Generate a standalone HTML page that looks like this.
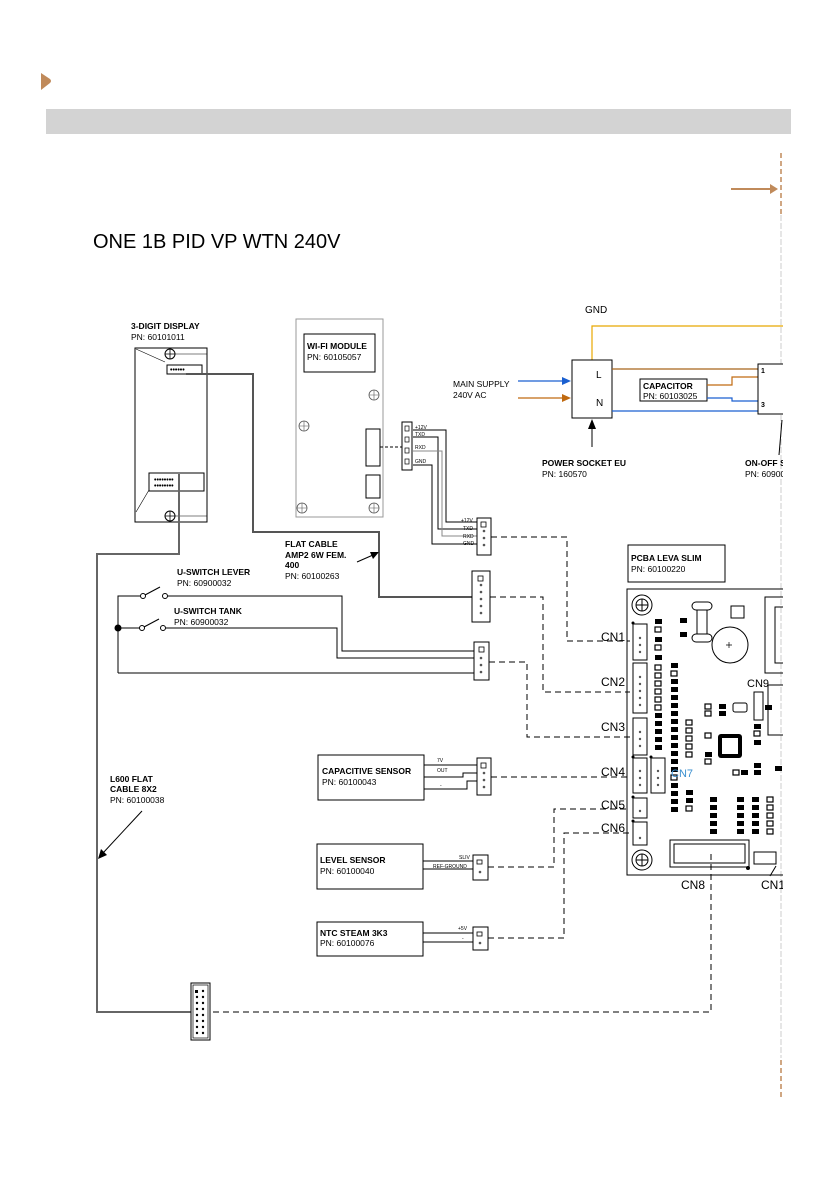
<!DOCTYPE html>
<html><head><meta charset="utf-8"><style>
html,body{margin:0;padding:0;background:#fff}
svg{display:block}
text{font-family:"Liberation Sans",sans-serif}
.b{font-weight:bold;font-size:8.5px}
.n{font-size:8.5px}
.t{font-size:5px}
</style></head><body>
<svg width="839" height="1191" viewBox="0 0 839 1191" xmlns="http://www.w3.org/2000/svg">
<defs>
<clipPath id="c"><rect x="0" y="0" width="783" height="1191"/></clipPath>
<rect id="sr" width="7" height="5" fill="#000"/>
<rect id="so" width="6" height="5" fill="#fff" stroke="#000" stroke-width="1.2"/>
</defs>
<!-- header -->
<path d="M41 73 L50 79 Q52 81 50 83 L41 90 Z" fill="#C08A5A"/>
<rect x="46" y="109" width="745" height="25" fill="#d3d3d3"/>
<line x1="781" y1="153" x2="781" y2="215" stroke="#C08A5A" stroke-width="1.5" stroke-dasharray="5,3"/>
<line x1="781" y1="215" x2="781" y2="1058" stroke="#ccc" stroke-width="1" stroke-dasharray="6,2"/>
<line x1="781" y1="1060" x2="781" y2="1097" stroke="#C08A5A" stroke-width="1.5" stroke-dasharray="5,3"/>
<line x1="731" y1="189" x2="772" y2="189" stroke="#C08A5A" stroke-width="2"/>
<path d="M778 189 L770 184 L770 194 Z" fill="#C08A5A"/>
<text x="93" y="248" font-size="20" fill="#000">ONE 1B PID VP WTN 240V</text>

<g clip-path="url(#c)">
<!-- 3-digit display -->
<text x="131" y="329" class="b">3-DIGIT DISPLAY</text>
<text x="131" y="340" class="n">PN: 60101011</text>
<rect x="135" y="348" width="72" height="174" fill="none" stroke="#000" stroke-width="1"/>
<line x1="136" y1="349" x2="165" y2="362" stroke="#000" stroke-width="0.6"/>
<line x1="136" y1="512" x2="149" y2="490" stroke="#000" stroke-width="0.6"/>
<circle cx="170" cy="354" r="5" fill="none" stroke="#000"/><path d="M165 354h10M170 349v10" stroke="#000" stroke-width="0.8"/>
<circle cx="170" cy="516" r="5" fill="none" stroke="#000"/><path d="M165 516h10M170 511v10" stroke="#000" stroke-width="0.8"/>
<line x1="175" y1="354" x2="207" y2="354" stroke="#000" stroke-width="0.6"/>
<line x1="175" y1="516" x2="207" y2="516" stroke="#000" stroke-width="0.6"/>
<rect x="167" y="365" width="35" height="9" fill="none" stroke="#000"/>
<text x="170" y="372" font-size="7" font-weight="bold">••••••</text>
<rect x="149" y="473" width="55" height="18" fill="none" stroke="#000"/>
<text x="154" y="482" font-size="7" font-weight="bold">••••••••</text>
<text x="154" y="488" font-size="7" font-weight="bold">••••••••</text>

<!-- wifi module -->
<rect x="296" y="319" width="87" height="198" fill="none" stroke="#999" stroke-width="1"/>
<rect x="304" y="334" width="71" height="38" fill="none" stroke="#000"/>
<text x="307" y="349" class="b">WI-FI MODULE</text>
<text x="307" y="360" class="n">PN: 60105057</text>
<g fill="none" stroke="#555" stroke-width="0.8">
<circle cx="374" cy="395" r="5"/><circle cx="304" cy="426" r="5"/><circle cx="302" cy="508" r="5"/><circle cx="374" cy="508" r="5"/>
</g>
<path d="M369 395h10M374 390v10M299 426h10M304 421v10M297 508h10M302 503v10M369 508h10M374 503v10" stroke="#555" stroke-width="0.6"/>
<rect x="366" y="429" width="14" height="37" fill="none" stroke="#000"/>
<rect x="366" y="475" width="14" height="23" fill="none" stroke="#000"/>
<line x1="380" y1="447" x2="402" y2="447" stroke="#000" stroke-dasharray="3,2"/>
<rect x="402" y="422" width="10" height="48" fill="none" stroke="#000"/>
<g fill="none" stroke="#000" stroke-width="0.7"><rect x="405" y="426" width="4" height="5"/><rect x="405" y="437" width="4" height="5"/><rect x="405" y="448" width="4" height="5"/><rect x="405" y="459" width="4" height="5"/></g>
<text x="415" y="429" class="t">+12V</text><text x="415" y="436" class="t">TXD</text><text x="415" y="449" class="t">RXD</text><text x="415" y="463" class="t">GND</text>
<g fill="none" stroke="#000" stroke-width="1">
<polyline points="413,430 446,430 446,522 477,522"/>
<polyline points="413,437 438,437 438,529 477,529"/>
<polyline points="413,465 432,465 432,544 477,544"/>
</g>
<polyline points="413,451 442,451 442,536 477,536" fill="none" stroke="#888" stroke-width="1"/>
<rect x="477" y="518" width="14" height="37" fill="#fff" stroke="#000"/>
<text x="461" y="522" class="t">+12V</text><text x="463" y="530" class="t">TXD</text><text x="463" y="538" class="t">RXD</text><text x="463" y="545" class="t">GND</text>
<g fill="#555"><circle cx="484" cy="531" r="1.3"/><circle cx="484" cy="538" r="1.3"/><circle cx="484" cy="545" r="1.3"/></g>
<rect x="481" y="522" width="5" height="5" fill="none" stroke="#000" stroke-width="0.8"/>

<!-- flat cable -->
<polyline points="186,374 253,374 253,532 379,532 379,597 473,597" fill="none" stroke="#555" stroke-width="2"/>
<rect x="472" y="571" width="18" height="51" fill="#fff" stroke="#000"/>
<g fill="#555"><circle cx="481" cy="585" r="1.3"/><circle cx="481" cy="592" r="1.3"/><circle cx="481" cy="599" r="1.3"/><circle cx="481" cy="606" r="1.3"/><circle cx="481" cy="613" r="1.3"/></g>
<rect x="478" y="576" width="5" height="5" fill="none" stroke="#000" stroke-width="0.8"/>
<text x="285" y="547" class="b">FLAT CABLE</text>
<text x="285" y="558" class="b">AMP2 6W FEM.</text>
<text x="285" y="568" class="b">400</text>
<text x="285" y="579" class="n">PN: 60100263</text>
<line x1="357" y1="562" x2="373" y2="555" stroke="#000"/><path d="M379 552 L370 552 L373 559 Z"/>

<!-- switches -->
<text x="177" y="575" class="b">U-SWITCH LEVER</text>
<text x="177" y="586" class="n">PN: 60900032</text>
<text x="174" y="614" class="b">U-SWITCH TANK</text>
<text x="174" y="625" class="n">PN: 60900032</text>
<g fill="none" stroke="#000" stroke-width="1">
<polyline points="118,673 118,596 140,596"/>
<circle cx="143" cy="596" r="2.5"/><circle cx="165" cy="596" r="2.5"/>
<line x1="145" y1="595" x2="160" y2="587"/>
<polyline points="168,596 342,596 342,651 474,651"/>
<line x1="118" y1="628" x2="140" y2="628"/>
<circle cx="142" cy="628" r="2.5"/><circle cx="163" cy="628" r="2.5"/>
<line x1="144" y1="627" x2="159" y2="619"/>
<polyline points="166,628 337,628 337,658 474,658"/>
<polyline points="118,673 474,673"/>
</g>
<circle cx="118" cy="628" r="3.5" fill="#000"/>
<rect x="474" y="642" width="15" height="38" fill="#fff" stroke="#000"/>
<rect x="479" y="647" width="5" height="5" fill="none" stroke="#000" stroke-width="0.8"/>
<g fill="#555"><circle cx="481" cy="658" r="1.3"/><circle cx="481" cy="665" r="1.3"/><circle cx="481" cy="672" r="1.3"/></g>

<!-- L600 cable -->
<polyline points="179,474 179,554 97,554 97,1012 191,1012" fill="none" stroke="#666" stroke-width="2"/>
<text x="110" y="782" class="b">L600 FLAT</text>
<text x="110" y="792" class="b">CABLE 8X2</text>
<text x="110" y="803" class="n">PN: 60100038</text>
<line x1="142" y1="811" x2="103" y2="853" stroke="#000"/><path d="M98 859 L101 849 L107 855 Z"/>
<rect x="191" y="983" width="19" height="57" fill="#fff" stroke="#000"/>
<rect x="193" y="985" width="15" height="53" fill="none" stroke="#000" stroke-width="0.7"/>
<g fill="#000">
<rect x="195" y="990" width="3" height="3"/>
<circle cx="203" cy="991" r="1.2"/><circle cx="197" cy="997" r="1.2"/><circle cx="203" cy="997" r="1.2"/><circle cx="197" cy="1003" r="1.2"/><circle cx="203" cy="1003" r="1.2"/><circle cx="197" cy="1009" r="1.2"/><circle cx="203" cy="1009" r="1.2"/><circle cx="197" cy="1015" r="1.2"/><circle cx="203" cy="1015" r="1.2"/><circle cx="197" cy="1021" r="1.2"/><circle cx="203" cy="1021" r="1.2"/><circle cx="197" cy="1027" r="1.2"/><circle cx="203" cy="1027" r="1.2"/><circle cx="197" cy="1033" r="1.2"/><circle cx="203" cy="1033" r="1.2"/>
</g>

<!-- sensors -->
<rect x="318" y="755" width="106" height="45" fill="none" stroke="#000"/>
<text x="322" y="774" class="b">CAPACITIVE SENSOR</text>
<text x="322" y="785" class="n">PN: 60100043</text>
<g fill="none" stroke="#000"><polyline points="424,765 477,765"/><polyline points="424,777 463,777 463,773 477,773"/><polyline points="424,789 467,789 467,781 477,781"/></g>
<text x="437" y="762" class="t">7V</text><text x="437" y="772" class="t">OUT</text><text x="440" y="787" class="t">-</text>
<rect x="477" y="758" width="14" height="37" fill="#fff" stroke="#000"/>
<rect x="481" y="763" width="5" height="5" fill="none" stroke="#000" stroke-width="0.8"/>
<g fill="#555"><circle cx="484" cy="773" r="1.3"/><circle cx="484" cy="780" r="1.3"/><circle cx="484" cy="787" r="1.3"/></g>

<rect x="317" y="844" width="106" height="45" fill="none" stroke="#000"/>
<text x="320" y="863" class="b">LEVEL SENSOR</text>
<text x="320" y="874" class="n">PN: 60100040</text>
<line x1="423" y1="861" x2="473" y2="861" stroke="#000"/><line x1="423" y1="869" x2="473" y2="869" stroke="#000"/>
<text x="459" y="859" class="t">SLIV</text><text x="433" y="868" class="t">REF-GROUND</text>
<rect x="473" y="855" width="15" height="25" fill="#fff" stroke="#000"/>
<rect x="477" y="860" width="5" height="4" fill="none" stroke="#000" stroke-width="0.8"/><circle cx="480" cy="872" r="1.3" fill="#555"/>

<rect x="317" y="922" width="106" height="34" fill="none" stroke="#000"/>
<text x="320" y="936" class="b">NTC STEAM 3K3</text>
<text x="320" y="946" class="n">PN: 60100076</text>
<line x1="423" y1="933" x2="473" y2="933" stroke="#000"/><line x1="423" y1="942" x2="473" y2="942" stroke="#000"/>
<text x="458" y="930" class="t">+5V</text><text x="462" y="940" class="t">-</text>
<rect x="473" y="927" width="15" height="23" fill="#fff" stroke="#000"/>
<rect x="477" y="932" width="5" height="4" fill="none" stroke="#000" stroke-width="0.8"/><circle cx="480" cy="943" r="1.3" fill="#555"/>

<!-- dashed connections -->
<g fill="none" stroke="#000" stroke-width="1" stroke-dasharray="6,4">
<polyline points="491,537 567,537 567,641 630,641"/>
<polyline points="490,597 543,597 543,692 630,692"/>
<polyline points="489,662 527,662 527,737 630,737"/>
<polyline points="491,777 630,777"/>
<polyline points="488,867 554,867 554,809 630,809"/>
<polyline points="488,938 564,938 564,833 630,833"/>
<polyline points="213,1012 711,1012 711,850"/>
</g>

<!-- power -->
<text x="585" y="313" font-size="10">GND</text>
<polyline points="592,360 592,326 783,326" fill="none" stroke="#E8A800" stroke-width="1.2"/>
<rect x="572" y="360" width="40" height="58" fill="#fff" stroke="#000"/>
<text x="596" y="378" font-size="10">L</text>
<text x="596" y="406" font-size="10">N</text>
<text x="453" y="387" class="n">MAIN SUPPLY</text>
<text x="453" y="398" class="n">240V AC</text>
<line x1="518" y1="381" x2="563" y2="381" stroke="#1a5fd0" stroke-width="1.2"/><path d="M571 381 L562 377 L562 385 Z" fill="#1a5fd0"/>
<line x1="518" y1="398" x2="563" y2="398" stroke="#C06A10" stroke-width="1.2"/><path d="M571 398 L562 394 L562 402 Z" fill="#C06A10"/>
<line x1="592" y1="447" x2="592" y2="428" stroke="#000"/><path d="M592 419 L588 429 L596 429 Z"/>
<text x="542" y="466" class="b">POWER SOCKET EU</text>
<text x="542" y="477" class="n">PN: 160570</text>
<line x1="612" y1="369" x2="758" y2="369" stroke="#A8641A" stroke-width="1.2"/>
<line x1="612" y1="411" x2="758" y2="411" stroke="#1a5fd0" stroke-width="1.2"/>
<rect x="640" y="379" width="67" height="22" fill="#fff" stroke="#000"/>
<text x="643" y="389" class="b">CAPACITOR</text>
<text x="643" y="399" class="n">PN: 60103025</text>
<polyline points="707,385 732,385 732,377 758,377" fill="none" stroke="#C06A10" stroke-width="1.2"/>
<polyline points="707,398 732,398 732,401 758,401" fill="none" stroke="#1a5fd0" stroke-width="1.2"/>
<rect x="758" y="364" width="40" height="50" fill="#fff" stroke="#000"/>
<text x="761" y="373" font-size="7" font-weight="bold">1</text>
<text x="761" y="407" font-size="7" font-weight="bold">3</text>
<line x1="779" y1="455" x2="782" y2="420" stroke="#000"/>
<text x="745" y="466" class="b">ON-OFF SWITCH</text>
<text x="745" y="477" class="n">PN: 60900000</text>

<!-- PCBA -->
<rect x="628" y="545" width="97" height="37" fill="none" stroke="#000"/>
<text x="631" y="561" class="b">PCBA LEVA SLIM</text>
<text x="631" y="572" class="n">PN: 60100220</text>
<rect x="627" y="589" width="200" height="286" fill="none" stroke="#000"/>
<g fill="none" stroke="#000"><circle cx="642" cy="605" r="10"/><circle cx="642" cy="605" r="6"/><circle cx="642" cy="860" r="10"/><circle cx="642" cy="860" r="6"/></g>
<path d="M636 605h12M642 599v12M636 860h12M642 854v12" stroke="#000"/>
<g fill="none" stroke="#000" stroke-width="1">
<rect x="633" y="624" width="14" height="36"/><rect x="633" y="663" width="14" height="50"/><rect x="633" y="718" width="14" height="37"/>
<rect x="633" y="758" width="14" height="35"/><rect x="651" y="758" width="14" height="35"/><rect x="633" y="798" width="14" height="20"/><rect x="633" y="822" width="14" height="23"/>
<rect x="670" y="840" width="79" height="27"/><rect x="674" y="844" width="71" height="19"/>
<rect x="754" y="852" width="22" height="12"/>
<rect x="692" y="602" width="20" height="8" rx="4"/><rect x="692" y="634" width="20" height="8" rx="4"/><rect x="697" y="610" width="10" height="24"/>
<circle cx="730" cy="645" r="18"/>
<rect x="731" y="606" width="13" height="12"/>
<rect x="765" y="597" width="30" height="76"/><rect x="775" y="607" width="20" height="56"/>
<rect x="754" y="692" width="9" height="28"/><rect x="733" y="703" width="14" height="9" rx="2"/>
<rect x="768" y="685" width="20" height="50"/>
</g>
<path d="M726 645h6M729 642v6" stroke="#000" stroke-width="0.7"/>
<rect x="718" y="734" width="24" height="24" rx="3" fill="#000"/><rect x="722" y="738" width="16" height="16" fill="#fff"/>
<g fill="#000"><circle cx="633" cy="623" r="1.5"/><circle cx="633" cy="757" r="1.5"/><circle cx="651" cy="757" r="1.5"/><circle cx="633" cy="797" r="1.5"/><circle cx="633" cy="821" r="1.5"/><circle cx="748" cy="868" r="2"/></g>
<g fill="#555"><circle cx="640" cy="638" r="1.2"/><circle cx="640" cy="645" r="1.2"/><circle cx="640" cy="652" r="1.2"/><circle cx="640" cy="677" r="1.2"/><circle cx="640" cy="684" r="1.2"/><circle cx="640" cy="691" r="1.2"/><circle cx="640" cy="698" r="1.2"/><circle cx="640" cy="705" r="1.2"/><circle cx="640" cy="732" r="1.2"/><circle cx="640" cy="739" r="1.2"/><circle cx="640" cy="746" r="1.2"/><circle cx="640" cy="771" r="1.2"/><circle cx="640" cy="778" r="1.2"/><circle cx="640" cy="785" r="1.2"/><circle cx="658" cy="771" r="1.2"/><circle cx="658" cy="778" r="1.2"/><circle cx="658" cy="785" r="1.2"/><circle cx="640" cy="811" r="1.2"/><circle cx="640" cy="838" r="1.2"/></g>
<g>
<use href="#sr" x="655" y="619"/><use href="#so" x="655" y="627"/><use href="#sr" x="655" y="637"/><use href="#so" x="655" y="645"/><use href="#sr" x="655" y="655"/><use href="#so" x="655" y="665"/><use href="#so" x="655" y="673"/><use href="#so" x="655" y="681"/><use href="#so" x="655" y="689"/><use href="#so" x="655" y="697"/><use href="#so" x="655" y="705"/><use href="#sr" x="655" y="713"/><use href="#sr" x="655" y="721"/><use href="#sr" x="655" y="729"/><use href="#sr" x="655" y="737"/><use href="#sr" x="655" y="745"/>
<use href="#sr" x="671" y="663"/><use href="#so" x="671" y="671"/><use href="#sr" x="671" y="679"/><use href="#sr" x="671" y="687"/><use href="#sr" x="671" y="695"/><use href="#sr" x="671" y="703"/><use href="#sr" x="671" y="711"/><use href="#sr" x="671" y="719"/><use href="#sr" x="671" y="727"/><use href="#sr" x="671" y="735"/><use href="#sr" x="671" y="743"/><use href="#sr" x="671" y="751"/><use href="#sr" x="671" y="759"/><use href="#sr" x="671" y="767"/><use href="#so" x="671" y="775"/><use href="#sr" x="671" y="783"/><use href="#sr" x="671" y="791"/><use href="#sr" x="671" y="799"/><use href="#sr" x="671" y="807"/>
<use href="#so" x="686" y="720"/><use href="#so" x="686" y="728"/><use href="#so" x="686" y="736"/><use href="#so" x="686" y="744"/><use href="#so" x="686" y="752"/><use href="#sr" x="686" y="790"/><use href="#sr" x="686" y="798"/><use href="#so" x="686" y="806"/>
<use href="#sr" x="710" y="797"/><use href="#sr" x="710" y="805"/><use href="#sr" x="710" y="813"/><use href="#sr" x="710" y="821"/><use href="#sr" x="710" y="829"/>
<use href="#sr" x="737" y="797"/><use href="#sr" x="737" y="805"/><use href="#sr" x="737" y="813"/><use href="#sr" x="737" y="821"/><use href="#sr" x="737" y="829"/>
<use href="#sr" x="752" y="797"/><use href="#sr" x="752" y="805"/><use href="#sr" x="752" y="813"/><use href="#sr" x="752" y="821"/><use href="#sr" x="752" y="829"/>
<use href="#so" x="767" y="797"/><use href="#so" x="767" y="805"/><use href="#so" x="767" y="813"/><use href="#so" x="767" y="821"/><use href="#so" x="767" y="829"/>
<use href="#sr" x="680" y="618"/><use href="#sr" x="680" y="632"/><use href="#so" x="705" y="704"/><use href="#so" x="705" y="711"/><use href="#sr" x="719" y="704"/><use href="#sr" x="719" y="711"/>
<use href="#so" x="705" y="733"/><use href="#sr" x="705" y="752"/><use href="#so" x="705" y="759"/><use href="#so" x="733" y="770"/><use href="#sr" x="741" y="770"/><use href="#sr" x="754" y="770"/><use href="#sr" x="754" y="763"/>
<use href="#sr" x="754" y="724"/><use href="#so" x="754" y="731"/><use href="#sr" x="754" y="740"/><use href="#sr" x="765" y="705"/><use href="#sr" x="775" y="766"/>
</g>
<g font-size="12"><text x="601" y="641">CN1</text><text x="601" y="686">CN2</text><text x="601" y="731">CN3</text><text x="601" y="776">CN4</text><text x="601" y="809">CN5</text><text x="601" y="832">CN6</text><text x="681" y="889">CN8</text><text x="761" y="889">CN10</text><text x="747" y="687" font-size="11">CN9</text></g>
<text x="671" y="777" font-size="11" fill="#3a8fcf">CN7</text>
<line x1="770" y1="876" x2="776" y2="866" stroke="#000"/>
</g>
</svg>
</body></html>
